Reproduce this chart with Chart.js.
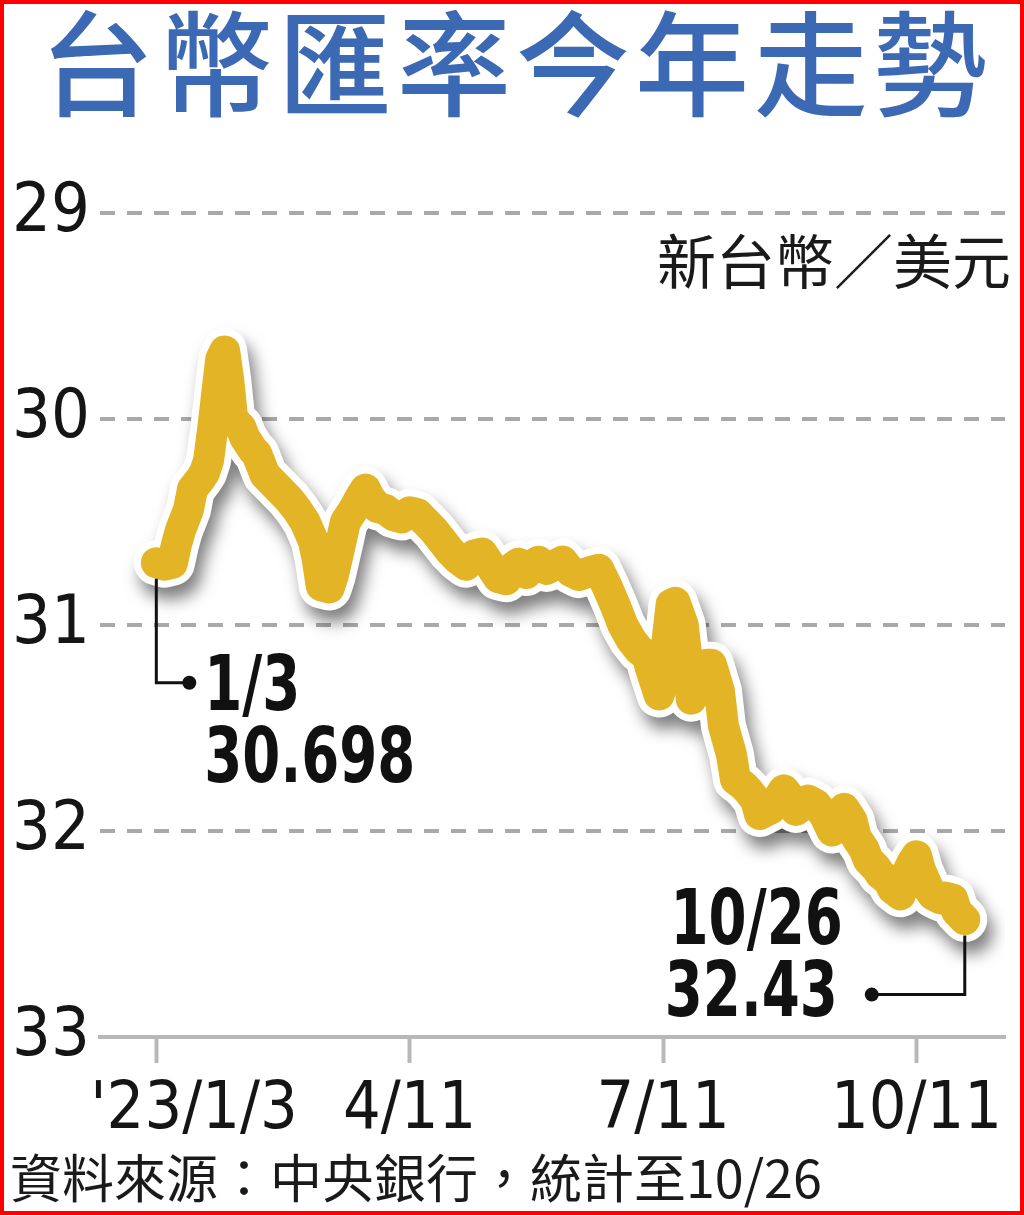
<!DOCTYPE html>
<html lang="zh-Hant">
<head>
    <meta charset="UTF-8">
    <title>台幣匯率今年走勢</title>
    <script src="https://cdn.jsdelivr.net/npm/chart.js@4"></script>
    <style>
        html, body { margin: 0; padding: 0; background: #fff; }
        #wrap { position: relative; width: 1024px; height: 1215px; overflow: hidden; background: #fff; }
        #title {
            position: absolute; left: 40px; top: -10px; margin: 0;
            font-family: 'Noto Sans CJK TC', sans-serif; font-weight: 500;
            font-size: 114px; line-height: 1.2; letter-spacing: 5px; color: #3b69b3;
            white-space: nowrap;
        }
        #unit {
            position: absolute; right: 13px; top: 224px;
            font-family: 'Noto Sans CJK TC', sans-serif; font-size: 59px; line-height: 1.2; color: #1a1a1a;
        }
        #source {
            position: absolute; left: 10px; top: 1145px;
            font-family: 'Noto Sans CJK TC', sans-serif; font-size: 52px; line-height: 1.2; color: #1a1a1a;
            white-space: nowrap;
        }
        #chartBox { position: absolute; left: 0; top: 0; width: 1024px; height: 1215px; }
        #frame { position: absolute; left: 0; top: 0; width: 1024px; height: 1215px; box-sizing: border-box; border: 4px solid #ff0000; pointer-events: none; }
    </style>
</head>
<body>
<div id="wrap">
    <div id="chartBox"><canvas id="fxChart"></canvas></div>
    <h1 id="title">台幣匯率今年走勢</h1>
    <div id="unit">新台幣／美元</div>
    <div id="source">資料來源：中央銀行，統計至10/26</div>
    <div id="frame"></div>
</div>

<script>
    // trading-day index since 2023/1/3, and NT$ per US$
    const dayIndex = [0,2,4,5,6,8,9,11,12,13,
        14,15,16,17,18,19,21,22,24,25,
        27,29,31,33,35,37,39,40,41,43,
        44,46,47,49,51,52,53,55,57,59,
        61,63,65,67,69,71,73,75,77,79,
        81,83,85,87,88,90,92,93,95,97,
        99,101,103,105,108,110,112,114,116,118,
        120,122,123,125,126,127,128,129,131,132,
        133,134,135,137,138,140,141,143,144,146,
        147,149,150,152,153,155,156,158,159,161,
        162,164,166,168,169,171,173,174,176,177,
        179,180,182,183,185,186,188,189,190,192,
        193,195,196,198,199,201];
    const rate = [30.698,30.71,30.70,30.61,30.54,30.44,30.34,30.29,30.26,30.20,
        30.05,29.88,29.71,29.67,29.81,30.00,30.04,30.09,30.15,30.17,
        30.27,30.31,30.35,30.39,30.44,30.50,30.59,30.68,30.81,30.82,
        30.76,30.59,30.50,30.44,30.37,30.34,30.38,30.43,30.44,30.47,
        30.48,30.45,30.46,30.50,30.54,30.59,30.64,30.68,30.71,30.66,
        30.65,30.71,30.77,30.78,30.73,30.70,30.75,30.72,30.69,30.73,
        30.71,30.69,30.74,30.76,30.74,30.73,30.81,30.90,31.00,31.07,
        31.12,31.15,31.22,31.34,31.27,31.07,30.90,30.89,31.00,31.17,
        31.36,31.31,31.27,31.19,31.19,31.32,31.49,31.63,31.75,31.78,
        31.80,31.85,31.92,31.90,31.89,31.83,31.80,31.85,31.90,31.87,
        31.85,31.87,31.92,32.00,31.95,31.89,31.95,32.03,32.09,32.14,
        32.18,32.21,32.24,32.28,32.31,32.23,32.15,32.12,32.19,32.28,
        32.31,32.33,32.32,32.33,32.39,32.43];

    const tickDays = [0, 63, 126, 189];
    const tickLabels = ["'23/1/3", '4/11', '7/11', '10/11'];
    const yTicks = [29, 30, 31, 32, 33];

    // callouts for first and last point
    const noteDates = ['1/3', '10/26'];
    const noteValues = ['30.698', '32.43'];

    const numFont = "'Liberation Sans Narrow', 'DejaVu Sans Condensed', 'Arial Narrow', sans-serif";
    const gold = '#e3b425';

    const points = dayIndex.map((d, i) => ({ x: d, y: rate[i] }));

    // soft drop shadow under the white halo
    const shadowPlugin = {
        id: 'haloShadow',
        beforeDatasetDraw(chart, args) {
            if (args.index !== 1) return;
            const ctx = chart.ctx;
            ctx.save();
            ctx.shadowColor = 'rgba(0,0,0,0.5)';
            ctx.shadowBlur = 16;
            ctx.shadowOffsetX = 6;
            ctx.shadowOffsetY = 12;
        },
        afterDatasetDraw(chart, args) {
            if (args.index !== 1) return;
            chart.ctx.restore();
        }
    };

    // narrow bold text: squeeze horizontally
    function squeezeText(ctx, text, x, y, align) {
        ctx.save();
        ctx.translate(x, y);
        ctx.scale(0.8, 1);
        ctx.textAlign = align;
        ctx.fillText(text, 0, 0);
        ctx.restore();
    }

    // elbow leaders + labels for first / last values
    const calloutPlugin = {
        id: 'callouts',
        afterDatasetsDraw(chart) {
            const ctx = chart.ctx;
            const xs = chart.scales.x, ys = chart.scales.y;
            const first = points[0], last = points[points.length - 1];
            const fx = xs.getPixelForValue(first.x), fy = ys.getPixelForValue(first.y);
            const lx = xs.getPixelForValue(last.x), ly = ys.getPixelForValue(last.y);
            ctx.save();
            ctx.strokeStyle = '#111';
            ctx.fillStyle = '#111';
            ctx.lineWidth = 3;

            // start
            ctx.beginPath();
            ctx.moveTo(fx, fy + 16);
            ctx.lineTo(fx, fy + 120);
            ctx.lineTo(fx + 33, fy + 120);
            ctx.stroke();
            ctx.beginPath();
            ctx.arc(fx + 33, fy + 120, 7, 0, Math.PI * 2);
            ctx.fill();

            // end
            ctx.beginPath();
            ctx.moveTo(lx, ly + 16);
            ctx.lineTo(lx, ly + 75);
            ctx.lineTo(lx - 93, ly + 75);
            ctx.stroke();
            ctx.beginPath();
            ctx.arc(lx - 93, ly + 75, 7, 0, Math.PI * 2);
            ctx.fill();

            ctx.font = 'bold 76px ' + numFont;
            ctx.textBaseline = 'alphabetic';
            squeezeText(ctx, noteDates[0], fx + 48, fy + 147, 'left');
            squeezeText(ctx, noteValues[0], fx + 48, fy + 219, 'left');
            squeezeText(ctx, noteDates[1], lx - 122, ly + 24, 'right');
            squeezeText(ctx, noteValues[1], lx - 127, ly + 96, 'right');
            ctx.restore();
        }
    };

    const ctx = document.getElementById('fxChart').getContext('2d');
    const fxChart = new Chart(ctx, {
        type: 'line',
        data: {
            datasets: [{
                data: points,
                borderColor: gold,
                borderWidth: 31,
                borderJoinStyle: 'round',
                borderCapStyle: 'round',
                pointRadius: 0,
                tension: 0
            }, {
                data: points,
                borderColor: '#ffffff',
                borderWidth: 45,
                borderJoinStyle: 'round',
                borderCapStyle: 'round',
                pointRadius: 0,
                tension: 0
            }]
        },
        options: {
            responsive: true,
            maintainAspectRatio: false,
            animation: false,
            layout: { padding: { left: 12, right: 19, top: 213, bottom: 68 } },
            plugins: {
                legend: { display: false },
                tooltip: { enabled: false }
            },
            scales: {
                x: {
                    type: 'linear',
                    min: -14,
                    max: 211,
                    afterBuildTicks: (axis) => { axis.ticks = tickDays.map(v => ({ value: v })); },
                    afterFit: (axis) => { axis.height = 110; },
                    ticks: {
                        autoSkip: false,
                        maxRotation: 0,
                        padding: 8,
                        color: '#151515',
                        font: { family: numFont, size: 66 },
                        // first label sits right of its tick in the original
                        callback: (v) => {
                            const i = tickDays.indexOf(v);
                            return i === 0 ? '    ' + tickLabels[i] : tickLabels[i];
                        }
                    },
                    grid: {
                        drawOnChartArea: false,
                        drawTicks: true,
                        tickLength: 26,
                        tickWidth: 4,
                        tickColor: '#b8b8b8'
                    },
                    border: { display: true, color: '#b8b8b8', width: 4 }
                },
                y: {
                    reverse: true,
                    min: 29,
                    max: 33,
                    afterBuildTicks: (axis) => { axis.ticks = yTicks.map(v => ({ value: v })); },
                    afterFit: (axis) => { axis.width = 88; },
                    ticks: {
                        crossAlign: 'far',
                        padding: 0,
                        color: '#151515',
                        font: { family: numFont, size: 68 }
                    },
                    grid: {
                        drawTicks: false,
                        lineWidth: 4,
                        color: (c) => c.tick && c.tick.value === 33 ? 'rgba(0,0,0,0)' : '#a9a9a9'
                    },
                    border: { display: false, dash: [15, 12] }
                }
            }
        },
        plugins: [shadowPlugin, calloutPlugin]
    });
</script>
</body>
</html>
